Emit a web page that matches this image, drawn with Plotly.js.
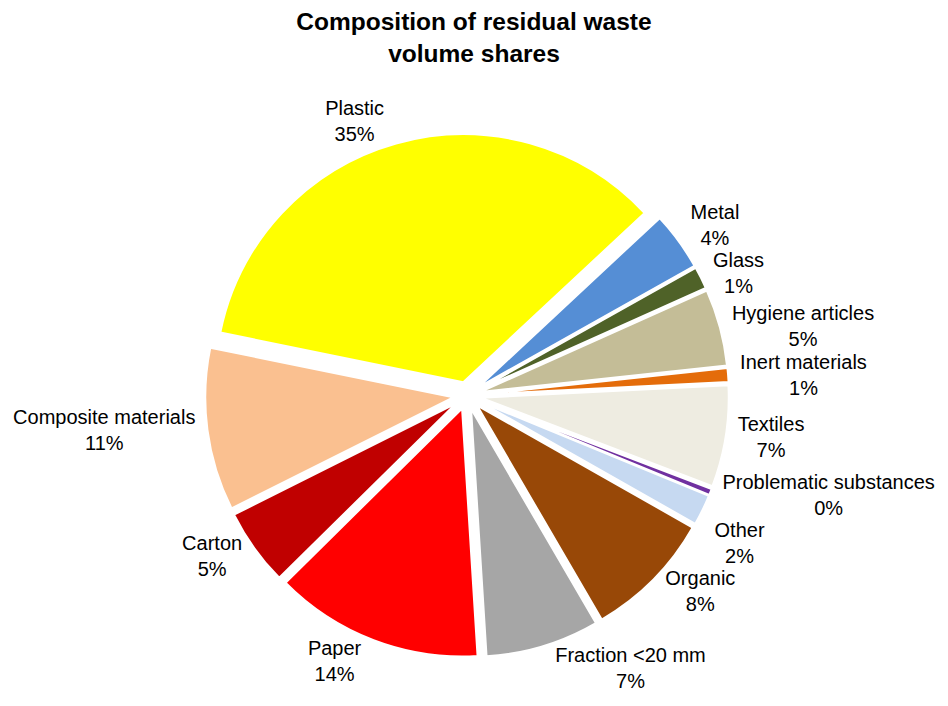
<!DOCTYPE html>
<html>
<head>
<meta charset="utf-8">
<script src="https://cdn.plot.ly/plotly-3.0.1.min.js"></script>
<style>
html,body{margin:0;padding:0;background:#fff;}
#chart{width:948px;height:706px;}
#chart path.textline{display:none !important;}
</style>
</head>
<body>
<div id="chart"></div>
<script>
// Categories in clockwise order, starting with Metal
const categories = [
  "Metal", "Glass", "Hygiene articles", "Inert materials", "Textiles",
  "Problematic substances", "Other", "Organic", "Fraction <20 mm",
  "Paper", "Carton", "Composite materials", "Plastic"
];
// Volume shares (%)
const shares = [3.8, 1.45, 5.0, 0.9, 6.6, 0.4, 2.0, 8.4, 7.4, 13.6, 5.0, 10.6, 34.85];
const colors = [
  "#558ED5", "#4F6228", "#C4BD97", "#E46C0A", "#EEECE1",
  "#7030A0", "#C6D9F1", "#984807", "#A6A6A6",
  "#FF0000", "#C00000", "#FAC090", "#FFFF00"
];

const trace = {
  type: "pie",
  labels: categories,
  values: shares,
  sort: false,
  direction: "clockwise",
  rotation: 47,
  pull: 0.056,
  marker: { colors: colors, line: { color: "#ffffff", width: 2 } },
  texttemplate: "%{label}<br>%{percent:.0%}",
  textposition: "outside",
  textfont: { family: "Liberation Sans, Arial, sans-serif", size: 20, color: "#000000" },
  outsidetextfont: { family: "Liberation Sans, Arial, sans-serif", size: 20, color: "#000000" },
  hoverinfo: "label+percent",
  automargin: false,
  domain: { x: [0.2164, 0.7689], y: [0.0688, 0.8108] }
};

const layout = {
  width: 948,
  height: 706,
  paper_bgcolor: "#ffffff",
  plot_bgcolor: "#ffffff",
  showlegend: false,
  margin: { l: 0, r: 0, t: 0, b: 0 },
  font: { family: "Liberation Sans, Arial, sans-serif", color: "#000000" },
  title: {
    text: "<b>Composition of residual waste<br>volume shares</b>",
    x: 0.5,
    xanchor: "center",
    y: 0.958,
    yanchor: "top",
    font: { family: "Liberation Sans, Arial, sans-serif", size: 24.5, color: "#000000" }
  }
};

Plotly.newPlot("chart", [trace], layout, { displayModeBar: false, staticPlot: true });
</script>
</body>
</html>
